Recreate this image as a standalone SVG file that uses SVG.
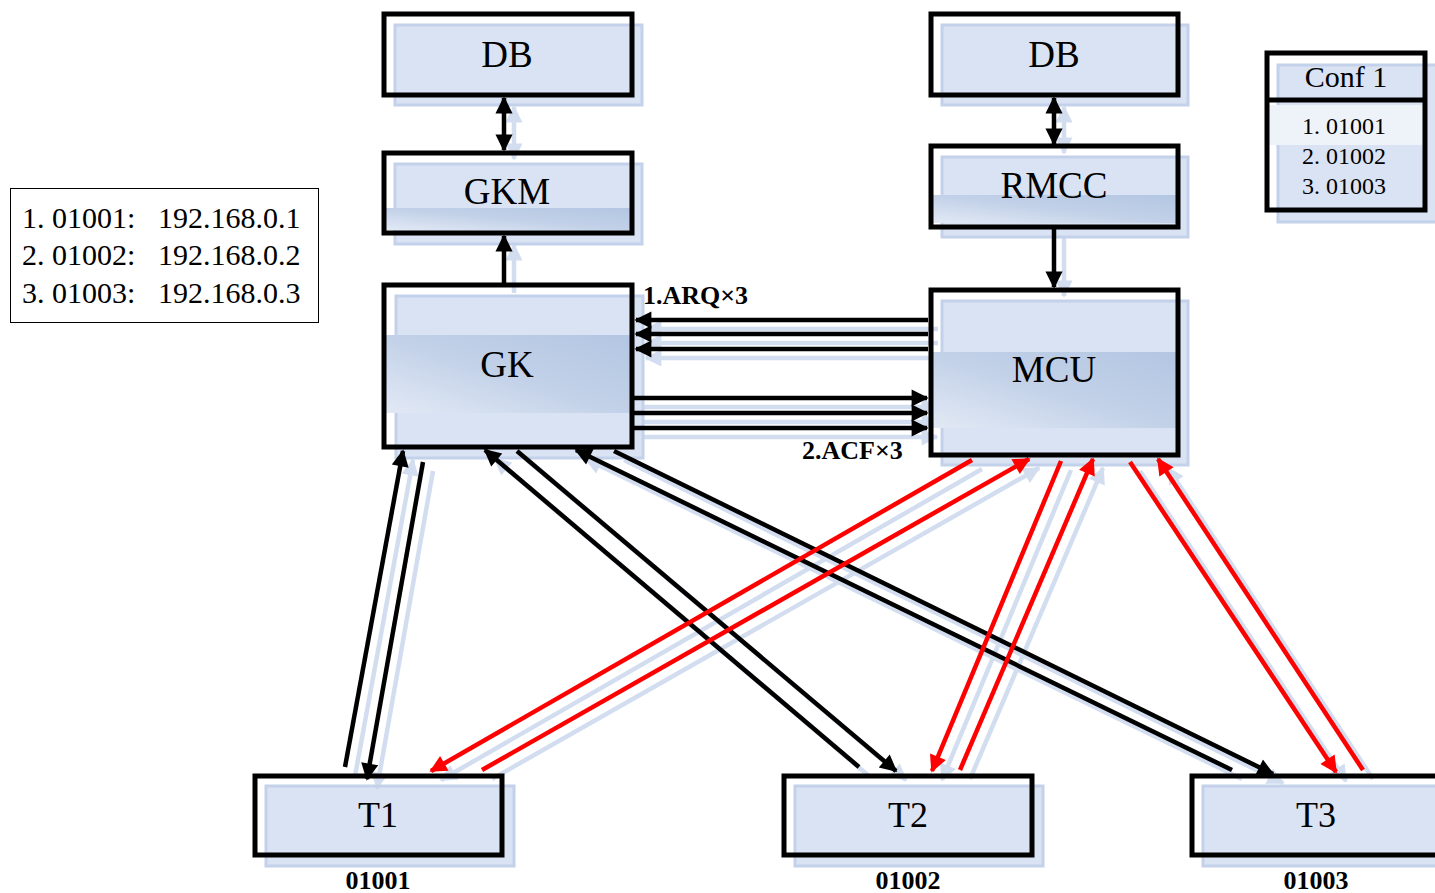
<svg xmlns="http://www.w3.org/2000/svg" xmlns:xlink="http://www.w3.org/1999/xlink" width="1435" height="893" viewBox="0 0 1435 893">
<defs>
<style>
.fill{fill:#dae3f3;stroke:#c3d1ea;stroke-width:3}
.border{fill:none;stroke:#000;stroke-width:5}
.band{fill:url(#bandGrad)}
.lbl{font-family:"Liberation Serif",serif;font-size:37px;fill:#000;text-anchor:middle}
.lblT{font-family:"Liberation Serif",serif;font-size:36px;fill:#000;text-anchor:middle}
.lblS{font-family:"Liberation Serif",serif;font-size:30px;fill:#000;text-anchor:middle}
.item{font-family:"Liberation Serif",serif;font-size:24px;fill:#000}
.tbl{font-family:"Liberation Serif",serif;font-size:30px;fill:#000}
.bold{font-family:"Liberation Serif",serif;font-size:26px;font-weight:bold;fill:#000}
.blk{stroke:#000;stroke-width:4.5;fill:none}
.red{stroke:#ff0000;stroke-width:4.5;fill:none}
</style>
<linearGradient id="bandGrad" x1="0" y1="1" x2="1" y2="0">
<stop offset="0" stop-color="#e2e9f5"/>
<stop offset="0.5" stop-color="#c2d1e8"/>
<stop offset="1" stop-color="#b3c6e2"/>
</linearGradient>
<marker id="ab" viewBox="0 0 10 10" refX="9" refY="5" markerWidth="4.8" markerHeight="3.8" orient="auto-start-reverse" markerUnits="strokeWidth">
<path d="M0,0 L10,5 L0,10 z" fill="#000"/>
</marker>
<marker id="ar" viewBox="0 0 10 10" refX="9" refY="5" markerWidth="4.8" markerHeight="3.8" orient="auto-start-reverse" markerUnits="strokeWidth">
<path d="M0,0 L10,5 L0,10 z" fill="#ff0000"/>
</marker>
<filter id="ghost" x="-10%" y="-10%" width="120%" height="120%">
<feFlood flood-color="#c3d2ea" result="c"/>
<feComposite in="c" in2="SourceAlpha" operator="in"/>
</filter>
</defs>
<rect width="1435" height="893" fill="#fff"/>

<!-- node fills (offset light layer) -->
<g id="fills">
<rect class="fill" x="395" y="25" width="247" height="80"/>
<rect class="fill" x="395" y="164" width="247" height="80"/>
<rect class="fill" x="396" y="296" width="247" height="162"/>
<rect class="fill" x="942" y="25" width="246" height="80"/>
<rect class="fill" x="942" y="157" width="246" height="80"/>
<rect class="fill" x="942" y="301" width="246" height="164"/>
<rect class="fill" x="1278" y="65" width="165" height="157"/>
<rect class="fill" x="266" y="786" width="248" height="80"/>
<rect class="fill" x="795" y="786" width="248" height="80"/>
<rect class="fill" x="1203" y="786" width="248" height="80"/>
</g>

<!-- ghost connectors -->
<use xlink:href="#connectors" transform="translate(10,9)" filter="url(#ghost)" opacity="0.75"/>

<g id="connectors">
<line class="blk" x1="504" y1="98" x2="504" y2="150" marker-start="url(#ab)" marker-end="url(#ab)"/>
<line class="blk" x1="504" y1="284" x2="504" y2="236" marker-end="url(#ab)"/>
<line class="blk" x1="1054" y1="98" x2="1054" y2="144" marker-start="url(#ab)" marker-end="url(#ab)"/>
<line class="blk" x1="1054" y1="229" x2="1054" y2="287" marker-end="url(#ab)"/>
<line class="blk" x1="928" y1="320" x2="636" y2="320" marker-end="url(#ab)"/>
<line class="blk" x1="928" y1="334" x2="636" y2="334" marker-end="url(#ab)"/>
<line class="blk" x1="928" y1="349" x2="636" y2="349" marker-end="url(#ab)"/>
<line class="blk" x1="632" y1="398" x2="927" y2="398" marker-end="url(#ab)"/>
<line class="blk" x1="632" y1="413" x2="927" y2="413" marker-end="url(#ab)"/>
<line class="blk" x1="632" y1="428" x2="927" y2="428" marker-end="url(#ab)"/>
<line class="blk" x1="345" y1="767" x2="403" y2="451" marker-end="url(#ab)"/>
<line class="blk" x1="423" y1="462" x2="367" y2="779" marker-end="url(#ab)"/>
<line class="blk" x1="859" y1="767" x2="485" y2="450" marker-end="url(#ab)"/>
<line class="blk" x1="517" y1="451" x2="896" y2="771" marker-end="url(#ab)"/>
<line class="blk" x1="1232" y1="770" x2="576" y2="450" marker-end="url(#ab)"/>
<line class="blk" x1="614" y1="451" x2="1273" y2="774" marker-end="url(#ab)"/>
<line class="red" x1="972" y1="460" x2="431" y2="771" marker-end="url(#ar)"/>
<line class="red" x1="482" y1="770" x2="1029" y2="459" marker-end="url(#ar)"/>
<line class="red" x1="1061" y1="461" x2="932" y2="771" marker-end="url(#ar)"/>
<line class="red" x1="960" y1="770" x2="1093" y2="459" marker-end="url(#ar)"/>
<line class="red" x1="1130" y1="462" x2="1336" y2="772" marker-end="url(#ar)"/>
<line class="red" x1="1363" y1="770" x2="1158" y2="459" marker-end="url(#ar)"/>
</g>

<g id="db-left">
<rect class="border" x="384" y="14" width="248" height="81"/>
<text class="lbl" x="507" y="67">DB</text>
</g>
<g id="gkm">
<rect class="band" x="386" y="208" width="244" height="22"/>
<rect class="border" x="384" y="153" width="248" height="80"/>
<text class="lbl" x="507" y="204">GKM</text>
</g>
<g id="gk">
<rect class="band" x="386" y="335" width="244" height="78"/>
<rect class="border" x="384" y="285" width="248" height="162"/>
<text class="lbl" x="507" y="377">GK</text>
</g>
<g id="db-right">
<rect class="border" x="931" y="14" width="247" height="81"/>
<text class="lbl" x="1054" y="67">DB</text>
</g>
<g id="rmcc">
<rect class="band" x="933" y="195" width="243" height="28"/>
<rect class="border" x="931" y="146" width="247" height="81"/>
<text class="lbl" x="1054" y="198">RMCC</text>
</g>
<g id="mcu">
<rect class="band" x="933" y="352" width="243" height="76"/>
<rect class="border" x="931" y="290" width="247" height="165"/>
<text class="lbl" x="1054" y="382">MCU</text>
</g>
<g id="conf1">
<rect x="1269" y="105" width="154" height="40" fill="#eef2f9"/>
<rect class="border" x="1267" y="53" width="158" height="157"/>
<line x1="1267" y1="100" x2="1425" y2="100" stroke="#000" stroke-width="5"/>
<text class="lblS" x="1346" y="87">Conf 1</text>
<text class="item" x="1302" y="134">1. 01001</text>
<text class="item" x="1302" y="164">2. 01002</text>
<text class="item" x="1302" y="194">3. 01003</text>
</g>
<g id="t1">
<rect class="border" x="255" y="776" width="247" height="79"/>
<text class="lblT" x="378" y="827">T1</text>
<text class="bold" x="378" y="889" text-anchor="middle">01001</text>
</g>
<g id="t2">
<rect class="border" x="784" y="776" width="248" height="79"/>
<text class="lblT" x="908" y="827">T2</text>
<text class="bold" x="908" y="889" text-anchor="middle">01002</text>
</g>
<g id="t3">
<rect class="border" x="1192" y="776" width="260" height="79"/>
<text class="lblT" x="1316" y="827">T3</text>
<text class="bold" x="1316" y="889" text-anchor="middle">01003</text>
</g>
<g id="ip-table">
<rect x="10.5" y="188.5" width="308" height="134" fill="none" stroke="#000" stroke-width="1"/>
<text class="tbl" x="22" y="228">1. 01001:</text>
<text class="tbl" x="158" y="228">192.168.0.1</text>
<text class="tbl" x="22" y="265">2. 01002:</text>
<text class="tbl" x="158" y="265">192.168.0.2</text>
<text class="tbl" x="22" y="303">3. 01003:</text>
<text class="tbl" x="158" y="303">192.168.0.3</text>
</g>
<g id="labels">
<text class="bold" x="643" y="304">1.ARQ×3</text>
<text class="bold" x="802" y="459">2.ACF×3</text>
</g>
</svg>
